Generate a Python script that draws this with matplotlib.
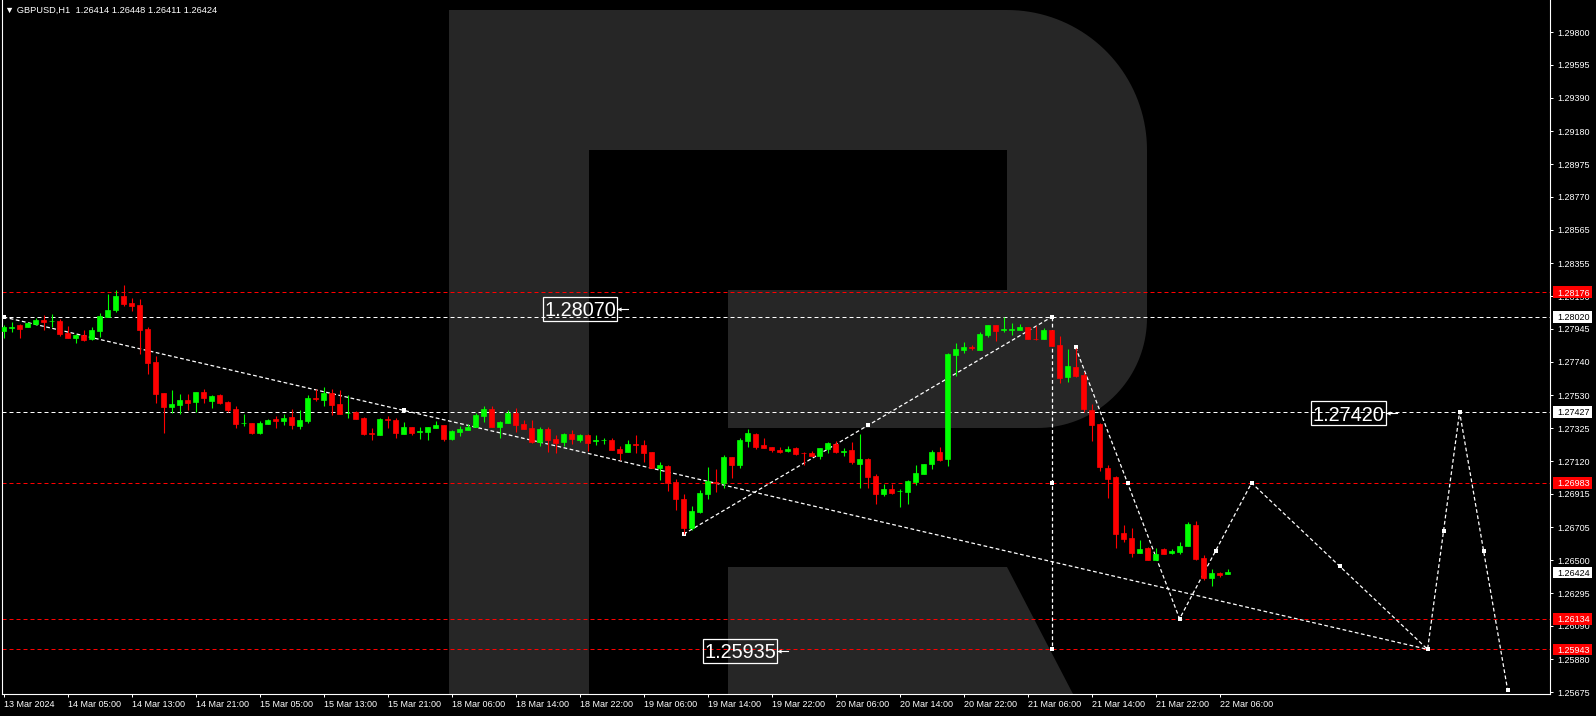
import numpy as np
import matplotlib
matplotlib.use("Agg")
import matplotlib.pyplot as plt
from matplotlib.path import Path
from matplotlib.patches import PathPatch, Rectangle
from matplotlib.transforms import blended_transform_factory

plt.rcParams['font.family'] = ['Liberation Sans', 'DejaVu Sans']

# ---------------- data (GBPUSD H1, 13 Mar 21:00 .. 22 Mar 07:00) ----------------
opens = [1.27932, 1.27954, 1.27970, 1.27960, 1.27976, 1.28001, 1.27993, 1.27995, 1.27920, 1.27890,
         1.27907, 1.27882, 1.27932, 1.28020, 1.28063, 1.28151, 1.28107, 1.28095, 1.27945, 1.27738,
         1.27545, 1.27457, 1.27470, 1.27501, 1.27488, 1.27551, 1.27495, 1.27532, 1.27488, 1.27445,
         1.27357, 1.27357, 1.27295, 1.27351, 1.27382, 1.27370, 1.27395, 1.27338, 1.27370, 1.27513,
         1.27501, 1.27545, 1.27476, 1.27420, 1.27426, 1.27388, 1.27292, 1.27282, 1.27382, 1.27376,
         1.27290, 1.27332, 1.27303, 1.27303, 1.27328, 1.27347, 1.27257, 1.27303, 1.27313, 1.27332,
         1.27401, 1.27445, 1.27332, 1.27357, 1.27420, 1.27351, 1.27326, 1.27238, 1.27320, 1.27257,
         1.27238, 1.27288, 1.27251, 1.27282, 1.27247, 1.27251, 1.27251, 1.27195, 1.27176, 1.27226,
         1.27220, 1.27176, 1.27076, 1.27088, 1.26988, 1.26882, 1.26701, 1.26801, 1.26913, 1.26988,
         1.26982, 1.27145, 1.27095, 1.27245, 1.27288, 1.27220, 1.27207, 1.27188, 1.27182, 1.27201,
         1.27170, 1.27170, 1.27153, 1.27195, 1.27228, 1.27178, 1.27187, 1.27103, 1.27132, 1.27028,
         1.26915, 1.26945, 1.26932, 1.26927, 1.26987, 1.27041, 1.27099, 1.27174, 1.27132, 1.27782,
         1.27812, 1.27830, 1.27815, 1.27907, 1.27970, 1.27940, 1.27940, 1.27937, 1.27957, 1.27882,
         1.27882, 1.27937, 1.27845, 1.27645, 1.27707, 1.27657, 1.27440, 1.27353, 1.27078, 1.27020,
         1.26670, 1.26637, 1.26545, 1.26578, 1.26499, 1.26570, 1.26545, 1.26550, 1.26587, 1.26720,
         1.26515, 1.26387, 1.26420, 1.26414]
highs = [1.27970, 1.27988, 1.27976, 1.27990, 1.28015, 1.28032, 1.28038, 1.28005, 1.27963, 1.27911,
         1.27938, 1.27957, 1.28045, 1.28163, 1.28188, 1.28220, 1.28138, 1.28132, 1.27957, 1.27776,
         1.27545, 1.27563, 1.27538, 1.27538, 1.27551, 1.27570, 1.27532, 1.27537, 1.27495, 1.27463,
         1.27413, 1.27357, 1.27370, 1.27382, 1.27401, 1.27413, 1.27445, 1.27438, 1.27532, 1.27570,
         1.27582, 1.27570, 1.27563, 1.27532, 1.27432, 1.27395, 1.27326, 1.27388, 1.27401, 1.27388,
         1.27365, 1.27332, 1.27334, 1.27332, 1.27370, 1.27347, 1.27313, 1.27338, 1.27351, 1.27420,
         1.27463, 1.27463, 1.27370, 1.27438, 1.27451, 1.27376, 1.27376, 1.27332, 1.27332, 1.27282,
         1.27295, 1.27313, 1.27288, 1.27288, 1.27282, 1.27263, 1.27263, 1.27213, 1.27251, 1.27282,
         1.27251, 1.27176, 1.27113, 1.27095, 1.27007, 1.26913, 1.26838, 1.26938, 1.27082, 1.27070,
         1.27157, 1.27145, 1.27263, 1.27320, 1.27295, 1.27263, 1.27207, 1.27207, 1.27213, 1.27207,
         1.27176, 1.27182, 1.27199, 1.27240, 1.27245, 1.27202, 1.27237, 1.27287, 1.27137, 1.27037,
         1.26978, 1.26978, 1.26945, 1.27002, 1.27095, 1.27103, 1.27190, 1.27207, 1.27795, 1.27857,
         1.27862, 1.27845, 1.27924, 1.27970, 1.27970, 1.28020, 1.27982, 1.27978, 1.27957, 1.27962,
         1.27953, 1.27937, 1.27899, 1.27820, 1.27824, 1.27678, 1.27474, 1.27357, 1.27095, 1.27028,
         1.26720, 1.26703, 1.26627, 1.26582, 1.26574, 1.26578, 1.26570, 1.26612, 1.26737, 1.26745,
         1.26532, 1.26445, 1.26428, 1.26448]
lows = [1.27888, 1.27926, 1.27888, 1.27957, 1.27970, 1.27938, 1.27960, 1.27901, 1.27886, 1.27858,
        1.27870, 1.27878, 1.27895, 1.28020, 1.28051, 1.28090, 1.28057, 1.27790, 1.27665, 1.27482,
        1.27295, 1.27420, 1.27413, 1.27438, 1.27426, 1.27482, 1.27451, 1.27476, 1.27426, 1.27326,
        1.27338, 1.27288, 1.27288, 1.27351, 1.27326, 1.27345, 1.27320, 1.27320, 1.27357, 1.27495,
        1.27463, 1.27407, 1.27413, 1.27388, 1.27382, 1.27282, 1.27251, 1.27282, 1.27326, 1.27263,
        1.27288, 1.27283, 1.27257, 1.27251, 1.27326, 1.27245, 1.27251, 1.27276, 1.27313, 1.27332,
        1.27363, 1.27332, 1.27265, 1.27357, 1.27301, 1.27320, 1.27232, 1.27215, 1.27176, 1.27170,
        1.27213, 1.27226, 1.27238, 1.27182, 1.27220, 1.27226, 1.27188, 1.27126, 1.27176, 1.27170,
        1.27113, 1.27076, 1.27001, 1.26932, 1.26813, 1.26663, 1.26688, 1.26795, 1.26882, 1.26926,
        1.26951, 1.27013, 1.27076, 1.27207, 1.27195, 1.27201, 1.27176, 1.27170, 1.27176, 1.27157,
        1.27095, 1.27151, 1.27132, 1.27170, 1.27170, 1.27153, 1.27103, 1.26953, 1.26953, 1.26853,
        1.26899, 1.26912, 1.26832, 1.26853, 1.26967, 1.27037, 1.27070, 1.27120, 1.27090, 1.27653,
        1.27795, 1.27812, 1.27815, 1.27895, 1.27870, 1.27928, 1.27907, 1.27937, 1.27882, 1.27874,
        1.27882, 1.27838, 1.27607, 1.27615, 1.27645, 1.27424, 1.27245, 1.27057, 1.26890, 1.26578,
        1.26612, 1.26520, 1.26545, 1.26499, 1.26499, 1.26537, 1.26542, 1.26537, 1.26587, 1.26502,
        1.26374, 1.26337, 1.26395, 1.26411]
closes = [1.27957, 1.27956, 1.27945, 1.27981, 1.28001, 1.27990, 1.27995, 1.27913, 1.27890, 1.27907,
          1.27876, 1.27938, 1.28026, 1.28063, 1.28151, 1.28103, 1.28090, 1.27938, 1.27732, 1.27540,
          1.27459, 1.27476, 1.27501, 1.27482, 1.27551, 1.27513, 1.27526, 1.27482, 1.27438, 1.27351,
          1.27359, 1.27295, 1.27357, 1.27376, 1.27370, 1.27388, 1.27345, 1.27376, 1.27513, 1.27510,
          1.27545, 1.27470, 1.27413, 1.27422, 1.27382, 1.27288, 1.27288, 1.27382, 1.27378, 1.27295,
          1.27332, 1.27297, 1.27305, 1.27332, 1.27347, 1.27257, 1.27307, 1.27320, 1.27332, 1.27407,
          1.27445, 1.27332, 1.27363, 1.27420, 1.27345, 1.27320, 1.27238, 1.27320, 1.27251, 1.27232,
          1.27288, 1.27257, 1.27282, 1.27232, 1.27249, 1.27253, 1.27188, 1.27170, 1.27226, 1.27222,
          1.27170, 1.27076, 1.27095, 1.26982, 1.26882, 1.26701, 1.26807, 1.26920, 1.26995, 1.26984,
          1.27145, 1.27095, 1.27251, 1.27295, 1.27207, 1.27203, 1.27188, 1.27176, 1.27195, 1.27163,
          1.27168, 1.27153, 1.27199, 1.27232, 1.27178, 1.27180, 1.27115, 1.27132, 1.27020, 1.26915,
          1.26945, 1.26920, 1.26934, 1.26995, 1.27045, 1.27103, 1.27174, 1.27127, 1.27787, 1.27820,
          1.27832, 1.27826, 1.27915, 1.27970, 1.27932, 1.27942, 1.27942, 1.27957, 1.27882, 1.27880,
          1.27937, 1.27840, 1.27637, 1.27712, 1.27649, 1.27445, 1.27345, 1.27082, 1.27007, 1.26665,
          1.26632, 1.26545, 1.26570, 1.26503, 1.26540, 1.26540, 1.26557, 1.26592, 1.26724, 1.26507,
          1.26390, 1.26420, 1.26407, 1.26424]

xtick_labels = ["13 Mar 2024", "14 Mar 05:00", "14 Mar 13:00", "14 Mar 21:00", "15 Mar 05:00",
                "15 Mar 13:00", "15 Mar 21:00", "18 Mar 06:00", "18 Mar 14:00", "18 Mar 22:00",
                "19 Mar 06:00", "19 Mar 14:00", "19 Mar 22:00", "20 Mar 06:00", "20 Mar 14:00",
                "20 Mar 22:00", "21 Mar 06:00", "21 Mar 14:00", "21 Mar 22:00", "22 Mar 06:00"]
xtick_bars = [0, 8, 16, 24, 32, 40, 48, 56, 64, 72, 80, 88, 96, 104, 112, 120, 128, 136, 144, 152]
ytick_values = [1.29800, 1.29595, 1.29390, 1.29180, 1.28975, 1.28770, 1.28565, 1.28355, 1.28150,
                1.27945, 1.27740, 1.27530, 1.27325, 1.27120, 1.26915, 1.26705, 1.26500, 1.26295,
                1.26090, 1.25880, 1.25675]

red_levels = [1.28176, 1.26983, 1.26134, 1.25943]
white_levels = [1.28020, 1.27427]
last_price = 1.26424
title = "\u25BC GBPUSD,H1  1.26414 1.26448 1.26411 1.26424"

# forecast / analysis lines (bar index, price)
trend_x, trend_y = [0, 178], [1.28020, 1.25943]
up_x, up_y = [85, 131], [1.26663, 1.28020]
vert_x, vert_y = [131, 131], [1.28020, 1.25943]
zig_x = [134, 147, 156, 178, 182, 188]
zig_y = [1.27830, 1.26134, 1.26983, 1.25943, 1.27427, 1.25690]
mark_x = [0, 50, 85, 108, 131, 131, 131, 134, 140.5, 147, 151.5, 156, 167, 178, 180, 182, 185, 188]
mark_y = [1.28020, 1.27437, 1.26663, 1.27342, 1.28020, 1.26983, 1.25943, 1.27830, 1.26983, 1.26134,
          1.26558, 1.26983, 1.26463, 1.25943, 1.26685, 1.27427, 1.26558, 1.25690]

# price label objects: text, left bar, right bar, price
label_texts = ["1.28070", "1.27420", "1.25935"]
label_left = [67.4, 163.4, 87.4]
label_right = [76.7, 172.8, 96.7]
label_price = [1.28070, 1.27420, 1.25935]

# ---------------- figure ----------------
W, H = 1596, 716
FS = 6.5
fig = plt.figure(figsize=(W / 100, H / 100), dpi=100, facecolor='black')

# background watermark (pixel coordinates)
bg = fig.add_axes([0, 0, 1, 1])
bg.set_xlim(0, W)
bg.set_ylim(H, 0)
bg.axis('off')
bg.set_zorder(0)


def arc(cx, cy, r, a0, a1, n=40):
    a = np.radians(np.linspace(a0, a1, n))
    return list(zip(cx + r * np.cos(a), cy + r * np.sin(a)))


outer = ([(449, 10), (1007, 10)] + arc(1007, 150, 140, -90, 0) + [(1147, 318)]
         + arc(1037, 318, 110, 0, 90) + [(728, 428), (728, 290), (1007, 290), (1007, 150),
                                          (589, 150), (589, 694), (449, 694), (449, 10)])
codes = [Path.MOVETO] + [Path.LINETO] * (len(outer) - 2) + [Path.CLOSEPOLY]
R_col = '#262626'
bg.add_patch(PathPatch(Path(outer, codes), facecolor=R_col, edgecolor='none'))
leg = [(728, 567), (1007, 567), (1073, 694), (728, 694), (728, 567)]
bg.add_patch(PathPatch(Path(leg, [Path.MOVETO] + [Path.LINETO] * 3 + [Path.CLOSEPOLY]),
                       facecolor=R_col, edgecolor='none'))
fig.text(5 / W, 1 - 10.5 / H, title, color='white', fontsize=FS + 0.2, ha='left', va='center')

# main chart axes
ax = fig.add_axes([2 / W, (H - 694) / H, 1548 / W, 694 / H])
ax.set_zorder(1)
ax.set_facecolor('none')
ax.set_xlim(-0.2, 193.3)
ax.set_ylim(1.25664, 1.30001)

o = np.array(opens); h = np.array(highs); l = np.array(lows); c = np.array(closes)
x = np.arange(len(o))
up = c >= o
cols = np.where(up, '#00ff00', '#ff0000')

# level lines
for lv in red_levels:
    ax.axhline(lv, color='#ff0000', lw=0.72, ls=(0, (4, 3)), zorder=2)
for lv in white_levels:
    ax.axhline(lv, color='white', lw=0.72, ls=(0, (4, 3)), zorder=2)

# analysis lines
dot = (0, (3, 2))
ax.plot(trend_x, trend_y, color='white', lw=0.9, ls=dot, zorder=3)
ax.plot(up_x, up_y, color='white', lw=0.9, ls=dot, zorder=3)
ax.plot(vert_x, vert_y, color='white', lw=0.9, ls=dot, zorder=3)
ax.plot(zig_x, zig_y, color='white', lw=0.9, ls=dot, zorder=3)
ax.plot(mark_x, mark_y, 's', color='white', ms=3.4, mew=0, zorder=4)

# candles
ax.vlines(x, l, h, colors=cols, lw=0.8, zorder=5)
bottoms = np.minimum(o, c)
heights = np.abs(c - o)
ax.bar(x, heights, bottom=bottoms, width=0.6, color=cols, edgecolor=cols, linewidth=0.5, zorder=6)

# price label objects
for t, xl, xr, p in zip(label_texts, label_left, label_right, label_price):
    ax.add_patch(Rectangle((xl, p - 0.00075), xr - xl, 0.0015, facecolor='none',
                           edgecolor='white', lw=0.9, zorder=7))
    ax.text((xl + xr) / 2, p, t, color='white', fontsize=14.3, ha='center',
            va='center_baseline', zorder=8)
    ax.plot([xr, xr + 1.4], [p, p], color='white', lw=0.8, zorder=7)
    ax.plot([xr + 0.25], [p], marker='<', color='white', ms=3, mew=0, zorder=7)

# axes styling
for s in ['left', 'bottom', 'right']:
    ax.spines[s].set_color('white')
    ax.spines[s].set_linewidth(0.8)
ax.spines['top'].set_visible(False)

ax.yaxis.tick_right()
ax.set_yticks(ytick_values)
ax.set_yticklabels([f"{v:.5f}" for v in ytick_values])
ax.tick_params(axis='y', colors='white', length=2.2, width=0.72, pad=2.8, labelsize=FS,
               direction='out')
ax.set_xticks(xtick_bars)
ax.set_xticklabels(xtick_labels, ha='left')
ax.tick_params(axis='x', colors='white', length=2.2, width=0.72, pad=1.8, labelsize=FS,
               direction='out')

# right-axis price tags
tr = blended_transform_factory(ax.transAxes, ax.transData)
x0 = (1553 - 2) / 1548
wbox = 39 / 1548
hbox = 0.00072
tags = [(p, '#ff0000', 'white') for p in red_levels] + \
       [(p, 'white', 'black') for p in white_levels + [last_price]]
for p, fc, tc in tags:
    ax.add_patch(Rectangle((x0, p - hbox / 2), wbox, hbox, transform=tr, facecolor=fc,
                           edgecolor='none', clip_on=False, zorder=9))
    ax.text((1557 - 2) / 1548, p, f"{p:.5f}", transform=tr, color=tc, fontsize=FS,
            ha='left', va='center_baseline', clip_on=False, zorder=10)

fig.savefig('out.png', dpi=100, facecolor='black')
